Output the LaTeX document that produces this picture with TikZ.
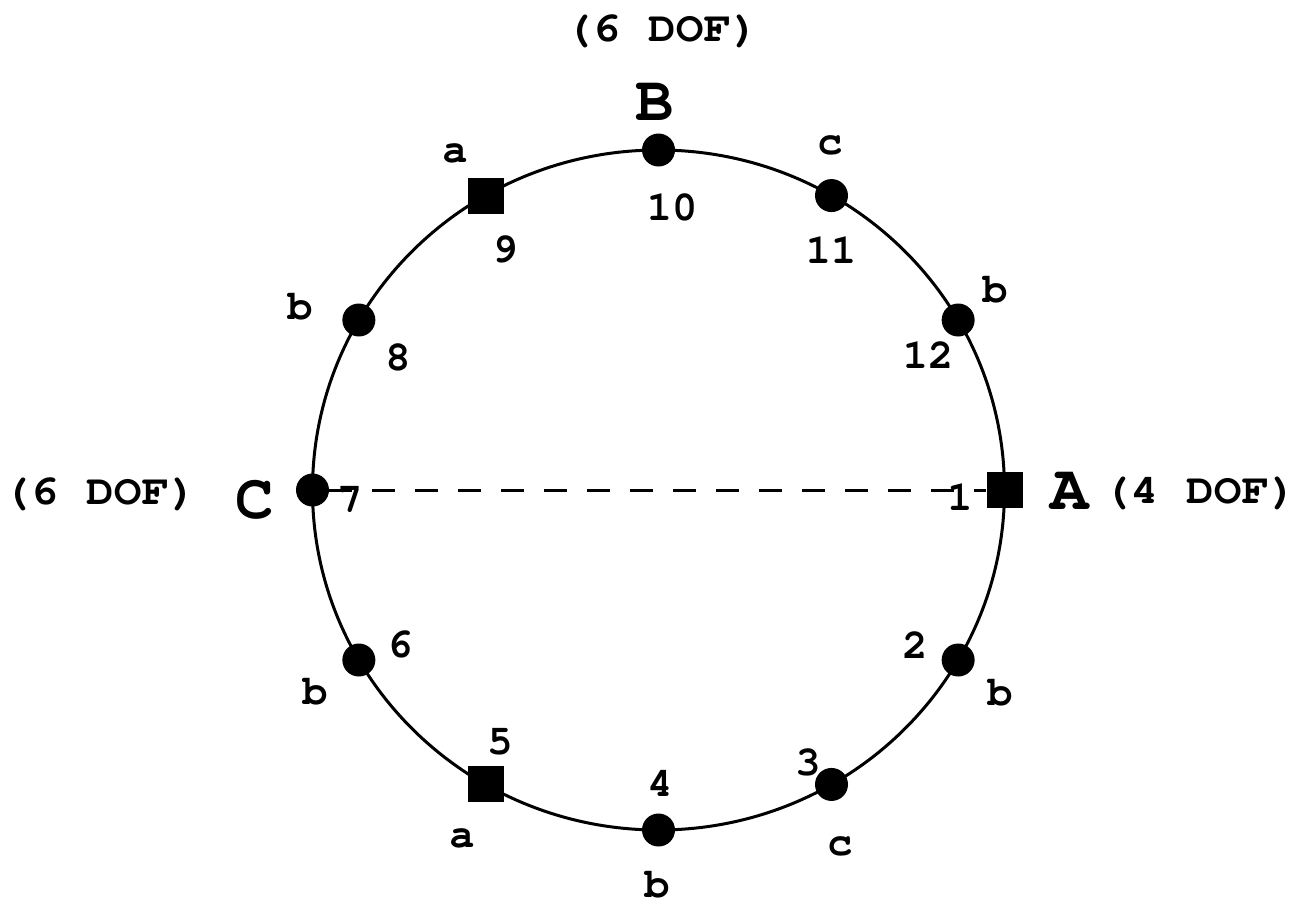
\documentclass[tikz,border=0pt]{standalone}
\usepackage[T1]{fontenc}
\newcommand\courlab{\fontencoding{T1}\fontfamily{pcr}\fontseries{b}\selectfont}
\begin{document}
\begin{tikzpicture}[x=0.5pt,y=-0.5pt,
  dot/.style={circle,fill=black,inner sep=0pt,minimum size=16.5pt},
  sq/.style={rectangle,fill=black,inner sep=0pt,minimum size=18pt},
  lab/.style={font=\courlab\fontsize{21}{24}\selectfont,inner sep=0pt},
  big/.style={font=\courlab\fontsize{32}{36}\selectfont,inner sep=0pt},
  ring/.style={line width=1.5pt},
  dashline/.style={line width=1.5pt,dash pattern=on 11.5pt off 10pt}]
\useasboundingbox (0,0) rectangle (1314,907);
\draw[ring] (658.5,490) ellipse [x radius=346, y radius=340];
\foreach \i/\a/\s in {1/0/sq,2/-30/dot,3/-60/dot,4/-90/dot,5/-120/sq,6/-150/dot,
                      7/180/dot,8/150/dot,9/120/sq,10/90/dot,11/60/dot,12/30/dot}
  \node[\s] (p\i) at ({658.5+346*cos(\a)},{490-340*sin(\a)}) {};
\draw[dashline] (p7) -- (p1);
% numbers
\node[lab] (n1) at (960,497) {1};
\node[lab] (n2) at (915,645) {2};
\node[lab] (n3) at (808,763) {3};
\node[lab] (n4) at (660,783) {4};
\node[lab] (n5) at (500,742) {5};
\node[lab] (n6) at (400,645) {6};
\node[lab] (n7) at (350,500) {7};
\node[lab] (n8) at (398,358) {8};
\node[lab] (n9) at (505,250) {9};
\node[lab] (n10) at (672,208) {10};
\node[lab] (n11) at (831,250) {11};
\node[lab] (n12) at (928,355) {12};
% letters
\node[lab] (l2) at (1000,693) {b};
\node[lab] (l3) at (840,846) {c};
\node[lab] (l4) at (657,885) {b};
\node[lab] (l5) at (462,838) {a};
\node[lab] (l6) at (315,692) {b};
\node[lab] (l8) at (300,307) {b};
\node[lab] (l9) at (455,153) {a};
\node[lab] (l11) at (830,145) {c};
\node[lab] (l12) at (995,290) {b};
% big labels
\node[big] (A) at (1070,492) {A};
\node[big] (B) at (655,103) {B};
\node[big] (C) at (255,500) {C};
\node[lab] (dA) at (1200,492) {\scalebox{1.1}[1]{(4 DOF)}};
\node[lab] (dB) at (662,30) {\scalebox{1.1}[1]{(6 DOF)}};
\node[lab] (dC) at (100,493) {\scalebox{1.1}[1]{(6 DOF)}};
\end{tikzpicture}
\end{document}
